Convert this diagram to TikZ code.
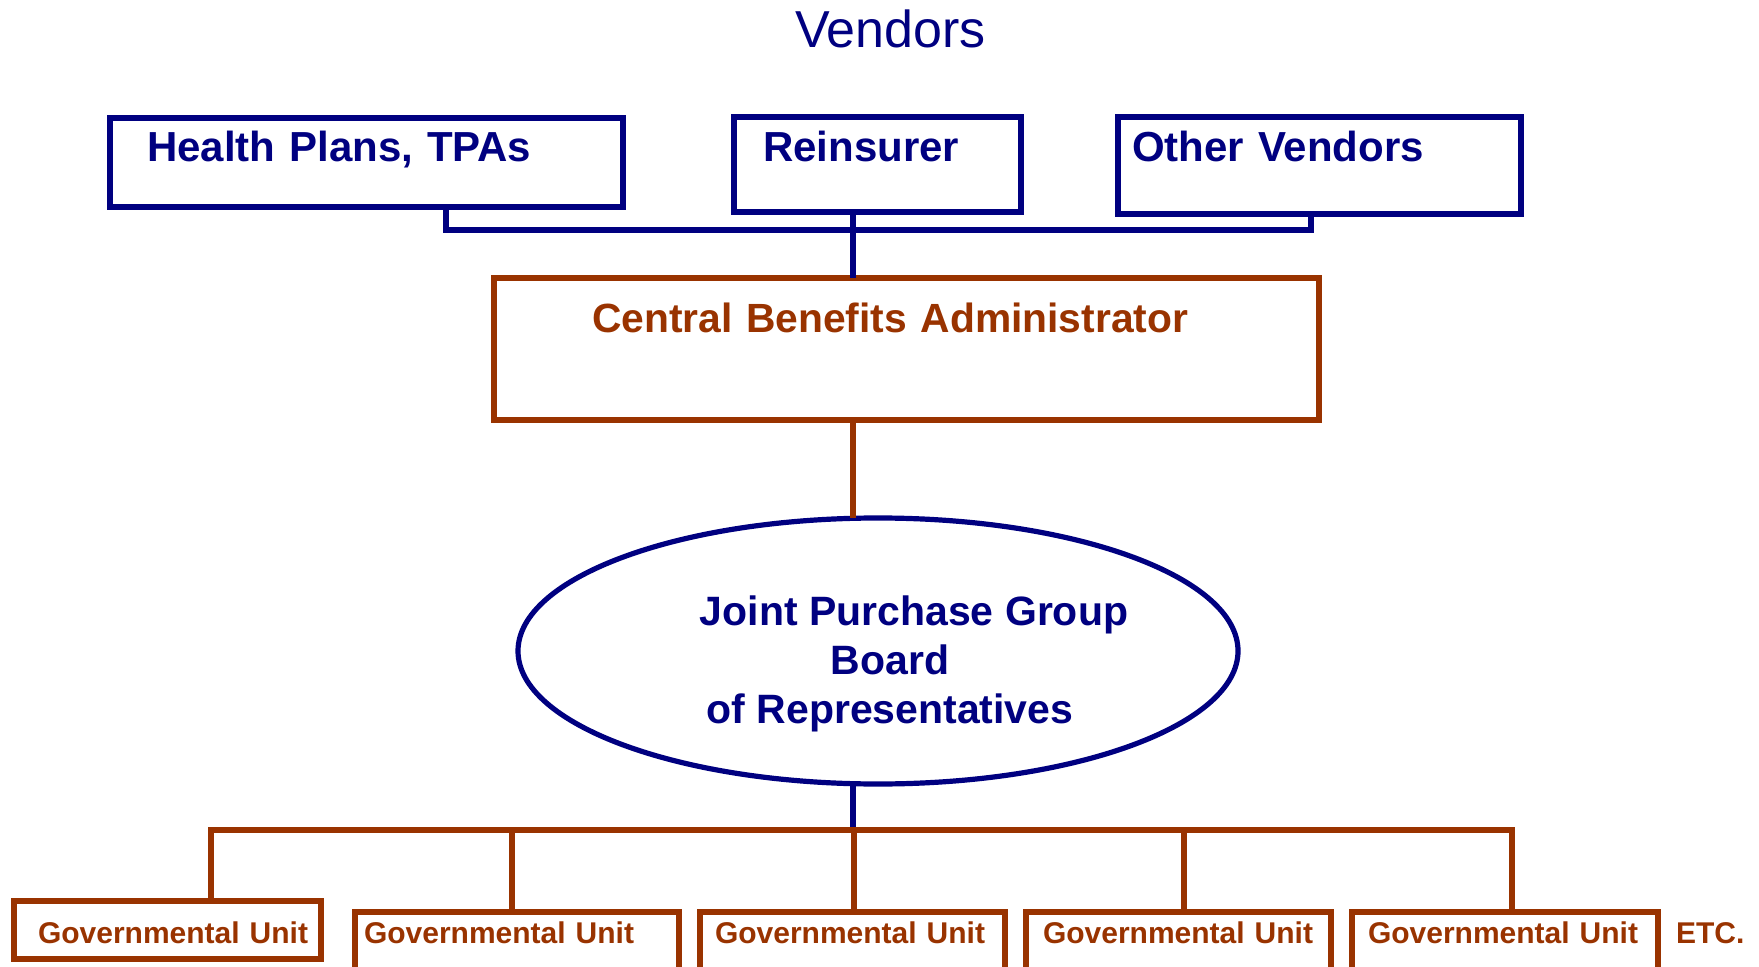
\documentclass[tikz,border=0pt]{standalone}
\usepackage{fontspec}
\setmainfont{Liberation Sans}
\usetikzlibrary{shapes.geometric,positioning}
\definecolor{navy}{RGB}{0,0,128}
\definecolor{rust}{RGB}{153,51,0}
\tikzset{/org/vendor/.style={rectangle, draw=navy, line width=3pt, text=navy, inner sep=0pt, outer sep=0pt, anchor=north west, align=left, font=\bfseries\fontsize{21}{25}\selectfont
}}
\tikzset{/org/admin/.style={rectangle, draw=rust, line width=3pt, text=rust, inner sep=0pt, outer sep=0pt, anchor=north west, align=left, font=\bfseries\fontsize{20.4}{25}\selectfont
}}
\tikzset{/org/board/.style={ellipse, draw=navy, line width=2.6pt, text=navy, inner sep=0pt, outer sep=0pt, align=center, font=\bfseries\fontsize{20.5}{24.5}\selectfont
}}
\tikzset{/org/unit/.style={rectangle, draw=rust, line width=3pt, text=rust, inner sep=0pt, outer sep=0pt, anchor=north west, align=left, text height=15.5pt, text depth=13.5pt, font=\bfseries\fontsize{15}{18}\selectfont
}}
\tikzset{/org/navyline/.style={draw=navy, line width=2.6pt}}
\tikzset{/org/rustline/.style={draw=rust, line width=2.6pt}}

\begin{document}
\begin{tikzpicture}[x=0.5pt, y=-0.5pt]
		\useasboundingbox (0,0) rectangle (1759,967);
		\node[anchor=base west, text=navy, font=\fontsize{26}{31}\selectfont] (title) at (788,48) {Vendors};
		\node[/org/vendor, text width=256.5pt, text height=22pt, text depth=22.5pt] (hp) at (110,118) {\hspace*{18.5pt}Health Plans, TPAs};
		\node[/org/vendor, text width=143.5pt, text height=22.5pt, text depth=25pt] (rein) at (734,117) {\hspace*{14.5pt}Reinsurer};
		\node[/org/vendor, text width=201.5pt, text height=22.5pt, text depth=26pt] (oth) at (1118,117) {\hspace*{7pt}Other Vendors};
		\node[/org/admin, text width=412.5pt, text height=27.5pt, text depth=43.5pt] (cba) at (494,278) {\hspace*{49pt}Central Benefits Administrator};
		\node[/org/board, minimum width=360pt, minimum height=133pt] (board) at (878,651) {\rule{0pt}{27.5pt}\hspace*{36pt}Joint Purchase Group\\ \hspace*{12pt}Board\\ \hspace*{12pt}of Representatives};
		\node[/org/unit, text width=153.5pt, text height=21pt, text depth=8pt] (g1) at (14,901) {\hspace*{12pt}Governmental Unit};
		\node[/org/unit, text width=162pt] (g2) at (355,912) {\hspace*{4.5pt}Governmental Unit};
		\node[/org/unit, text width=152.5pt] (g3) at (700,912) {\hspace*{7.5pt}Governmental Unit};
		\node[/org/unit, text width=152.5pt] (g4) at (1026,912) {\hspace*{8.5pt}Governmental Unit};
		\node[/org/unit, text width=153pt] (g5) at (1352,912) {\hspace*{8pt}Governmental Unit};
		\node[anchor=base west, text=rust, font=\bfseries\fontsize{15}{18}\selectfont] (etc) at (1669,943) {ETC.};

		\coordinate (vl) at (446,230);
		\coordinate (vr) at (1311,230);
		\coordinate (sp) at (853,230);
		\coordinate (gb) at (853,830);
		\draw[/org/navyline] (hp.south -| vl) -- (vl) -- (vr) -- (oth.south -| vr);
		\draw[/org/navyline] (rein.south -| sp) -- (cba.north -| sp);
		\draw[/org/rustline] (cba.south -| sp) -- (board.north -| sp);
		\draw[/org/navyline] (board.south -| sp) -- (gb);
		\foreach \u/\x in {g1/211,g2/512,g3/854,g4/1184,g5/1512}
			\coordinate (d\u) at (\x,830);
		\draw[/org/rustline] (g1.north -| dg1) -- (dg1) -- (dg5) -- (g5.north -| dg5);
		\foreach \u in {g2,g3,g4}
			\draw[/org/rustline] (d\u) -- (\u.north -| d\u);
\end{tikzpicture}
\end{document}
